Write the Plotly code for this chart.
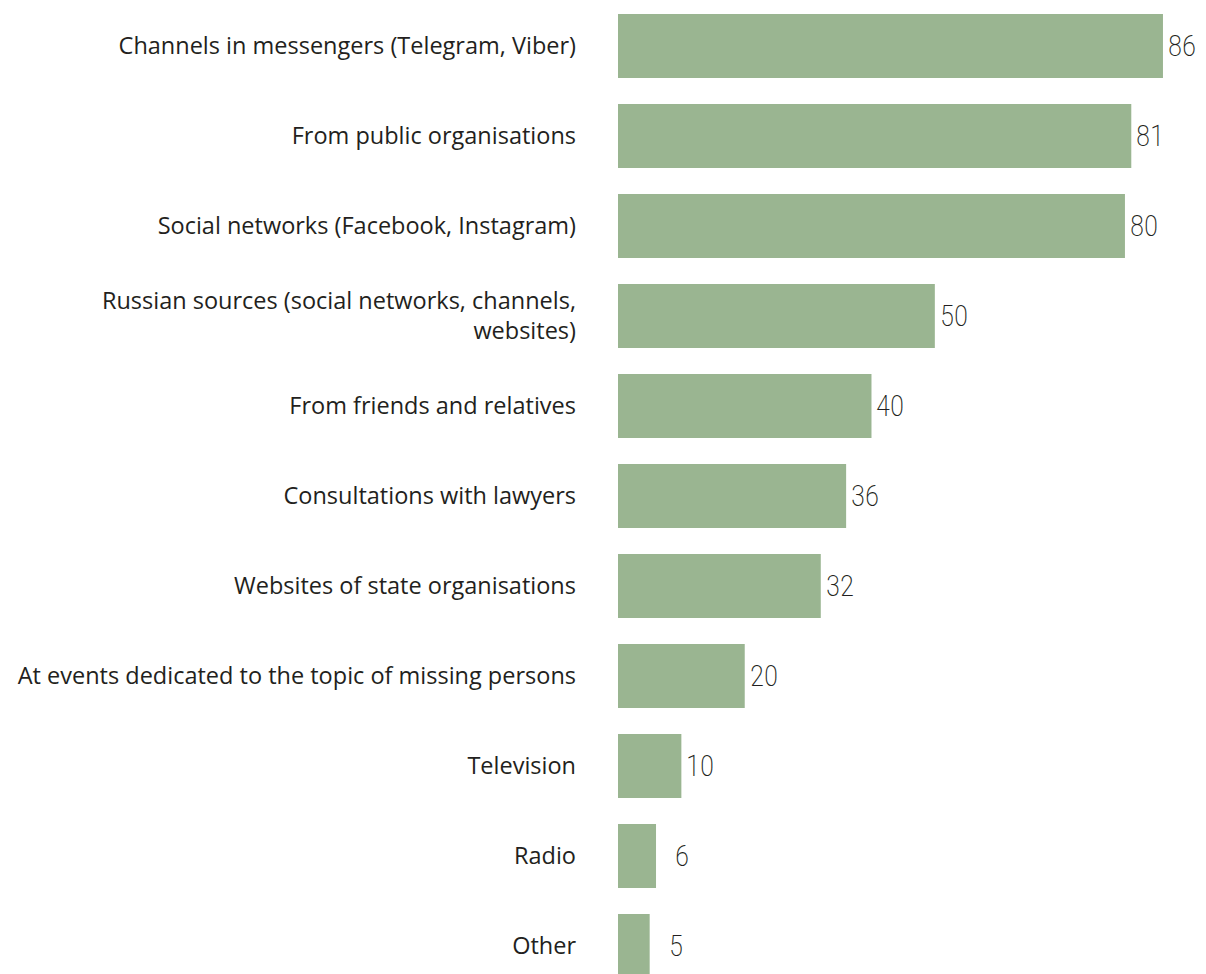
import plotly.graph_objects as go

# Sources of information, share of respondents (%)
categories = [
    "Channels in messengers (Telegram, Viber)",
    "From public organisations",
    "Social networks (Facebook, Instagram)",
    "Russian sources (social networks, channels,<br>websites)",
    "From friends and relatives",
    "Consultations with lawyers",
    "Websites of state organisations",
    "At events dedicated to the topic of missing persons",
    "Television",
    "Radio",
    "Other",
]
values = [86, 81, 80, 50, 40, 36, 32, 20, 10, 6, 5]

BAR_COLOR = "#9ab591"
TEXT_COLOR = "#231f20"
VALUE_FONT = dict(family="Roboto Condensed, Liberation Sans Narrow, DejaVu Sans Condensed",
                  size=29, color=TEXT_COLOR, weight=200)

fig = go.Figure(
    go.Bar(
        x=values,
        y=categories,
        orientation="h",
        marker=dict(color=BAR_COLOR, line=dict(width=0)),
        width=0.71,
        hoverinfo="skip",
    )
)

# value labels, right-aligned a fixed distance past each bar end
for cat, v in zip(categories, values):
    fig.add_annotation(
        x=v, y=cat, text=str(v), showarrow=False,
        xanchor="right", yanchor="middle", xshift=35,
        font=VALUE_FONT,
    )

fig.update_layout(
    width=1206,
    height=974,
    margin=dict(l=618, r=0, t=0, b=0),
    paper_bgcolor="white",
    plot_bgcolor="white",
    showlegend=False,
    xaxis=dict(range=[0, 92.79], visible=False, showgrid=False, zeroline=False),
    yaxis=dict(
        type="category",
        range=[10.311, -0.511],
        showgrid=False,
        zeroline=False,
        showline=False,
        ticks="",
        ticklabelstandoff=41,
        tickfont=dict(family="Open Sans", size=23.5, color=TEXT_COLOR),
    ),
)

fig.write_html("out.html")
